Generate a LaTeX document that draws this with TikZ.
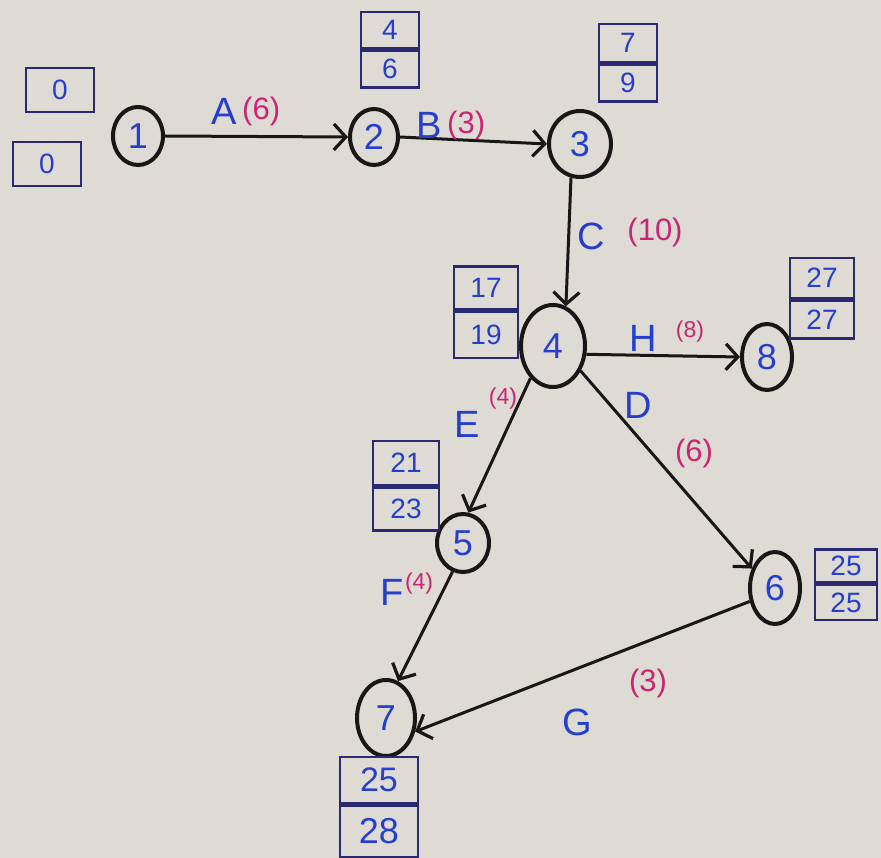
\documentclass[tikz,border=0pt]{standalone}
\usepackage{fontspec}
\setmainfont{Liberation Sans}
\usetikzlibrary{shapes.geometric,arrows.meta}
\definecolor{paper}{RGB}{222,219,213}
\definecolor{ink}{RGB}{38,62,205}
\definecolor{pinkink}{RGB}{205,35,115}
\definecolor{navy}{RGB}{42,40,112}
\definecolor{pen}{RGB}{25,22,22}
\tikzset{
  x=1pt,y=-1pt,
  event/.style={ellipse,draw=pen,line width=4pt,inner sep=0pt,text=ink,font=\fontsize{36}{36}\selectfont},
  cell/.style={rectangle,draw=navy,line width=2.5pt,inner sep=0pt,text=ink,font=\fontsize{28}{28}\selectfont},
  act/.style={draw=pen,line width=3pt,-{Straight Barb[length=12pt,width=26pt,line width=3.2pt]}},
  lab/.style={text=ink,font=\fontsize{38}{38}\selectfont,inner sep=0pt},
  dur/.style={text=pinkink,font=\fontsize{31}{31}\selectfont,inner sep=0pt},
  sdur/.style={text=pinkink,font=\fontsize{23}{23}\selectfont,inner sep=0pt}
}
\begin{document}
\begin{tikzpicture}
\fill[paper] (0,0) rectangle (881,858);
\useasboundingbox (0,0) rectangle (881,858);
% events
\node[event,minimum width=50pt,minimum height=58pt] (n1) at (138,136) {1};
\node[event,minimum width=48pt,minimum height=56pt] (n2) at (374,137) {2};
\node[event,minimum width=62pt,minimum height=66pt] (n3) at (580,144) {3};
\node[event,minimum width=64pt,minimum height=82pt] (n4) at (553,346) {4};
\node[event,minimum width=50pt,minimum height=66pt] (n8) at (767,357) {8};
\node[event,minimum width=52pt,minimum height=58pt] (n5) at (463,543) {5};
\node[event,minimum width=50pt,minimum height=72pt] (n6) at (775,588) {6};
\node[event,minimum width=58pt,minimum height=76pt] (n7) at (386,718) {7};
% time boxes
\node[cell,minimum width=68pt,minimum height=44pt] (b1t) at (60,90) {0};
\node[cell,minimum width=68pt,minimum height=44pt] (b1b) at (47,164) {0};
\node[cell,minimum width=58pt,minimum height=36pt] (b2t) at (390,30) {4};
\node[cell,minimum width=58pt,minimum height=37pt,anchor=north] (b2b) at (b2t.south) {6};
\node[cell,minimum width=58pt,minimum height=38pt] (b3t) at (628,43) {7};
\node[cell,minimum width=58pt,minimum height=37pt,anchor=north] (b3b) at (b3t.south) {9};
\node[cell,minimum width=64pt,minimum height=43pt] (b4t) at (486,288) {17};
\node[cell,minimum width=64pt,minimum height=46pt,anchor=north] (b4b) at (b4t.south) {19};
\node[cell,minimum width=64pt,minimum height=40pt] (b8t) at (822,278) {27};
\node[cell,minimum width=64pt,minimum height=38pt,anchor=north] (b8b) at (b8t.south) {27};
\node[cell,minimum width=66pt,minimum height=44pt] (b5t) at (406,463) {21};
\node[cell,minimum width=66pt,minimum height=43pt,anchor=north] (b5b) at (b5t.south) {23};
\node[cell,minimum width=62pt,minimum height=33pt] (b6t) at (846,566) {25};
\node[cell,minimum width=62pt,minimum height=35pt,anchor=north] (b6b) at (b6t.south) {25};
\node[cell,minimum width=78pt,minimum height=46pt,font=\fontsize{34}{34}\selectfont] (b7t) at (379,780) {25};
\node[cell,minimum width=78pt,minimum height=52pt,anchor=north,font=\fontsize{36}{36}\selectfont] (b7b) at (b7t.south) {28};
% activities
\draw[act] (n1.east) -- (n2.west);
\draw[act] (n2.east) -- (n3.west);
\draw[act] (n3.255) -- (n4.72);
\draw[act] (n4.-14) -- (n8.west);
\draw[act] (n4.235) -- (n5.80);
\draw[act] (n4.318) -- (n6.140);
\draw[act] (n5.250) -- (n7.72);
\draw[act] (n6.208) -- (n7.-25);
% labels
\node[lab] (la) at (224,111) {A};
\node[dur,anchor=west] (la2) at (la.east) {\,(6)};
\node[lab] (lb) at (429,125) {B};
\node[dur,anchor=west] (lb2) at (lb.east) {\,(3)};
\node[lab] (lc) at (591,236) {C};
\node[dur] (lc2) at (655,232) {(10)};
\node[lab] (lh) at (643,338) {H};
\node[sdur] (lh2) at (690,332) {(8)};
\node[lab] (ld) at (638,405) {D};
\node[dur] (ld2) at (694,453) {(6)};
\node[lab] (le) at (467,424) {E};
\node[sdur] (le2) at (503,399) {(4)};
\node[lab] (lf) at (392,592) {F};
\node[sdur,anchor=west] (lf2) at ([xshift=1pt,yshift=8pt]lf.east) {(4)};
\node[lab] (lg) at (577,722) {G};
\node[dur] (lg2) at (648,683) {(3)};
\end{tikzpicture}
\end{document}
